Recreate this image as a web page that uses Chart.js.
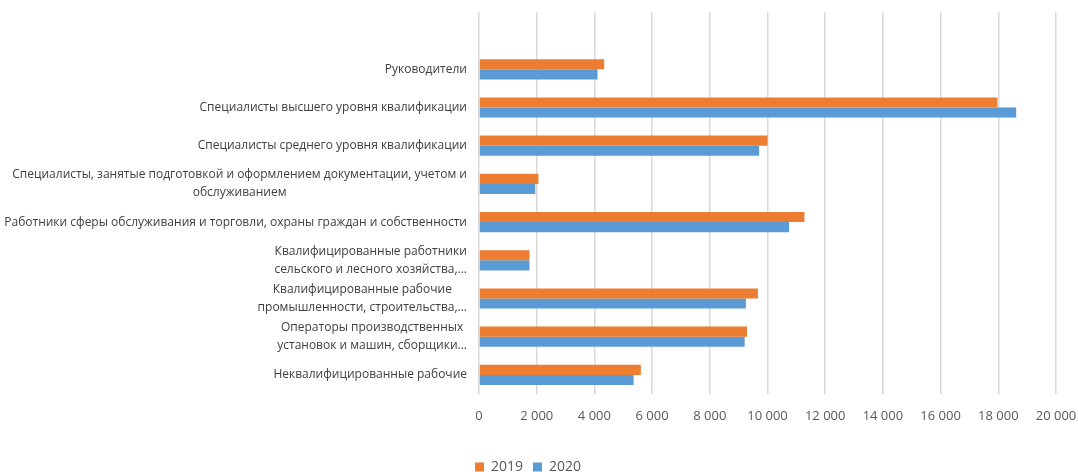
<!DOCTYPE html>
<html lang="ru">
<head>
    <meta charset="UTF-8"/>
    <title>Численность по группам занятий</title>
    <style>
        html, body {
            margin: 0;
            padding: 0;
            width: 100%;
            height: 100%;
            background: #fff;
            overflow: hidden;
        }

        #wrap {
            position: absolute;
            top: 0;
            left: 0;
            width: 1078px;
            height: 472px;
        }
    </style>
    <script src="https://cdn.jsdelivr.net/npm/chart.js@4/dist/chart.umd.min.js"></script>
</head>
<body>
<div id="wrap"><canvas id="chart"></canvas></div>

<script>
    // Data (first row is an empty slot, like in the source sheet)
    const categories = [
        [''],
        ['Руководители'],
        ['Специалисты высшего уровня квалификации'],
        ['Специалисты среднего уровня квалификации'],
        ['Специалисты, занятые подготовкой и оформлением документации, учетом и', 'обслуживанием'],
        ['Работники сферы обслуживания и торговли, охраны граждан и собственности'],
        ['Квалифицированные работники', 'сельского и лесного хозяйства,...'],
        ['Квалифицированные рабочие', 'промышленности, строительства,...'],
        ['Операторы производственных', 'установок и машин, сборщики...'],
        ['Неквалифицированные рабочие']
    ];
    const values2019 = [null, 4340, 17970, 10000, 2060, 11280, 1750, 9670, 9290, 5610];
    const values2020 = [null, 4110, 18620, 9710, 1950, 10750, 1750, 9250, 9210, 5360];
    const seriesNames = ['2019', '2020'];

    const X_MIN = 0;
    const X_MAX = 20000;
    const X_STEP = 2000;

    const FONT = "'Open Sans', sans-serif";
    const LABEL_COLOR = '#404040';
    const TICK_COLOR = '#595959';

    function fmt(v) {
        return String(v).replace(/\B(?=(\d{3})+(?!\d))/g, ' ');
    }

    // Excel-style category labels: block right-aligned, lines centred inside it
    const categoryLabels = {
        id: 'categoryLabels',
        afterDraw(chart) {
            const scale = chart.scales.y;
            const ctx = chart.ctx;
            const lineH = 18;
            ctx.save();
            ctx.font = '12px ' + FONT;
            ctx.fillStyle = LABEL_COLOR;
            ctx.textAlign = 'center';
            ctx.textBaseline = 'middle';
            categories.forEach((lines, i) => {
                const y = scale.getPixelForTick(i);
                const w = Math.max(...lines.map(l => ctx.measureText(l).width));
                const cx = scale.right - 12 - w / 2;
                const top = y - (lines.length - 1) * lineH / 2;
                lines.forEach((l, k) => ctx.fillText(l, cx, top + k * lineH));
            });
            ctx.restore();
        }
    };

    new Chart(document.getElementById('chart'), {
        type: 'bar',
        data: {
            labels: categories,
            datasets: [{
                label: seriesNames[0],
                data: values2019,
                backgroundColor: '#ED7D31',
                categoryPercentage: 0.53,
                barPercentage: 1
            }, {
                label: seriesNames[1],
                data: values2020,
                backgroundColor: '#5B9BD5',
                categoryPercentage: 0.53,
                barPercentage: 1
            }]
        },
        options: {
            indexAxis: 'y',
            animation: false,
            responsive: true,
            maintainAspectRatio: false,
            layout: {padding: {top: 12, right: 22, bottom: -12, left: 0}},
            scales: {
                x: {
                    min: X_MIN,
                    max: X_MAX,
                    border: {display: false},
                    grid: {color: '#d9d9d9', lineWidth: 1.5, drawTicks: false},
                    ticks: {
                        stepSize: X_STEP,
                        padding: 14,
                        color: TICK_COLOR,
                        font: {family: FONT, size: 13},
                        callback: v => fmt(v)
                    },
                    afterFit(scale) {
                        scale.height = 56;
                        scale.paddingRight = 0;
                    }
                },
                y: {
                    border: {display: false},
                    grid: {display: false, drawTicks: false},
                    ticks: {display: false},
                    afterFit(scale) {
                        scale.width = 479;
                    }
                }
            },
            plugins: {
                legend: {
                    position: 'bottom',
                    labels: {
                        boxWidth: 9,
                        boxHeight: 9,
                        padding: 10,
                        color: TICK_COLOR,
                        font: {family: FONT, size: 14}
                    }
                },
                tooltip: {enabled: false}
            }
        },
        plugins: [categoryLabels]
    });
</script>
</body>
</html>
